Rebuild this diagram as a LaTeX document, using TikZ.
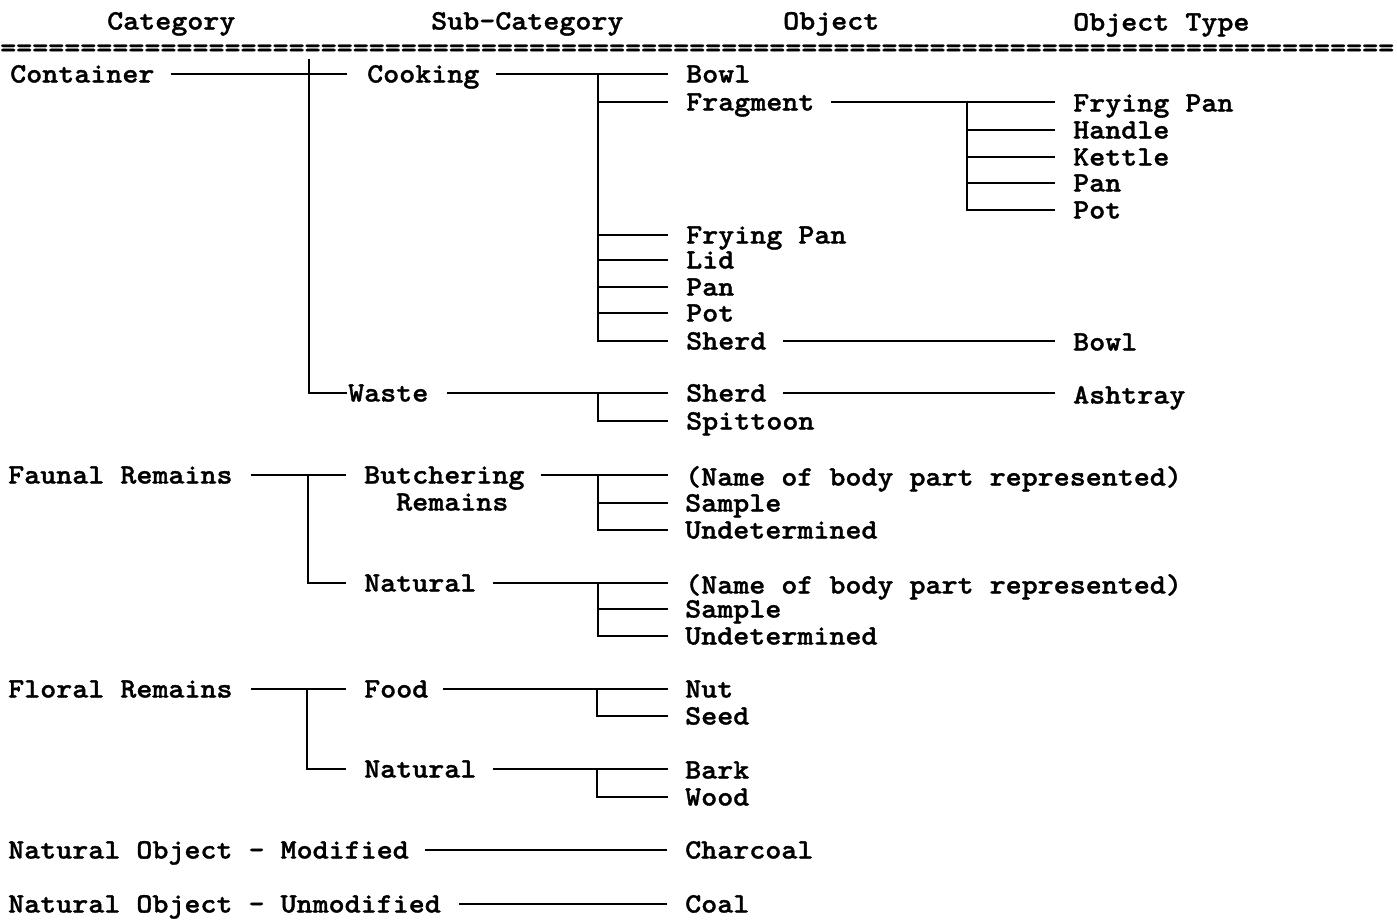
\documentclass[tikz,border=0pt]{standalone}
\usepackage{fontspec}
\newfontfamily\tf{lmmonolt10-bold.otf}[FakeStretch=1.09,FakeBold=1.2]
\begin{document}
\begin{tikzpicture}[x=1pt,y=-1pt,
  txt/.style={anchor=west,inner sep=0pt,text height=18pt,text depth=1pt,
    font=\tf\fontsize{28}{30}\selectfont},
  ln/.style={line width=2pt}]
\useasboundingbox[fill=white] (0,0) rectangle (1397,921);
% headers
\node[txt] (hcat) at (107,21) {Category};
\node[txt] (hsub) at (431,21) {Sub-Category};
\node[txt] (hobj) at (783,21) {Object};
\node[txt] (htyp) at (1073,22) {Object Type};
\node[txt] (eq) at (0,48) {=======================================================================================};
% categories
\node[txt] (c1) at (10,74) {Container};
\node[txt] (c2) at (8,475) {Faunal Remains};
\node[txt] (c3) at (8,689) {Floral Remains};
\node[txt] (c4) at (8,850) {Natural Object - Modified};
\node[txt] (c5) at (8,904) {Natural Object - Unmodified};
% sub-categories
\node[txt] (s1) at (367,74) {Cooking};
\node[txt] (s2) at (348,393) {Waste};
\node[txt] (s3) at (364,475) {Butchering};
\node[txt] (s3b) at (396,502) {Remains};
\node[txt] (s4) at (364,583) {Natural};
\node[txt] (s5) at (364,689) {Food};
\node[txt] (s6) at (364,769) {Natural};
% objects
\node[txt] (o1) at (686,74) {Bowl};
\node[txt] (o2) at (686,102) {Fragment};
\node[txt] (o3) at (686,235) {Frying Pan};
\node[txt] (o4) at (686,260) {Lid};
\node[txt] (o5) at (686,287) {Pan};
\node[txt] (o6) at (686,313) {Pot};
\node[txt] (o7) at (686,341) {Sherd};
\node[txt] (o8) at (686,393) {Sherd};
\node[txt] (o9) at (686,421) {Spittoon};
\node[txt] (o10) at (685,477) {(Name of body part represented)};
\node[txt] (o11) at (685,503) {Sample};
\node[txt] (o12) at (685,530) {Undetermined};
\node[txt] (o13) at (685,585) {(Name of body part represented)};
\node[txt] (o14) at (685,609) {Sample};
\node[txt] (o15) at (685,636) {Undetermined};
\node[txt] (o16) at (685,689) {Nut};
\node[txt] (o17) at (685,716) {Seed};
\node[txt] (o18) at (685,770) {Bark};
\node[txt] (o19) at (685,797) {Wood};
\node[txt] (o20) at (685,850) {Charcoal};
\node[txt] (o21) at (685,904) {Coal};
% object types
\node[txt] (t1) at (1073,103) {Frying Pan};
\node[txt] (t2) at (1073,130) {Handle};
\node[txt] (t3) at (1073,157) {Kettle};
\node[txt] (t4) at (1073,183) {Pan};
\node[txt] (t5) at (1073,210) {Pot};
\node[txt] (t6) at (1073,342) {Bowl};
\node[txt] (t7) at (1073,395) {Ashtray};
% junction coordinates
\coordinate (j1) at (309,74);
\coordinate (j2) at (308,475);
\coordinate (j3) at (307,689);
\coordinate (k1) at (598,74);
\coordinate (k2) at (598,393);
\coordinate (k3) at (598,475);
\coordinate (k4) at (598,583);
\coordinate (k5) at (597,689);
\coordinate (k6) at (597,769);
\coordinate (m1) at (967,102);
% category -> sub-category
\draw[ln] ([xshift=16pt]c1.east) -- ([xshift=-20pt]s1.west);
\draw[ln] ([yshift=15pt]j1) -- (j1 |- s2) -- ([xshift=-1pt]s2.west);
\draw[ln] ([xshift=18pt]c2.east) -- ([xshift=-18pt]s3.west);
\draw[ln] (j2) -- (j2 |- s4) -- ([xshift=-18pt]s4.west);
\draw[ln] ([xshift=18pt]c3.east) -- ([xshift=-18pt]s5.west);
\draw[ln] (j3) -- (j3 |- s6) -- ([xshift=-18pt]s6.west);
\draw[ln] ([xshift=16pt]c4.east) -- ([xshift=-18pt]o20.west);
\draw[ln] ([xshift=18pt]c5.east) -- ([xshift=-18pt]o21.west);
% sub-category -> object
\draw[ln] ([xshift=16pt]s1.east) -- ([xshift=-18pt]o1.west);
\draw[ln] (k1) -- (k1 |- o7) -- ([xshift=-18pt]o7.west);
\foreach \o in {o2,o3,o4,o5,o6} \draw[ln] (k1 |- \o) -- ([xshift=-18pt]\o.west);
\draw[ln] ([xshift=18pt]s2.east) -- ([xshift=-18pt]o8.west);
\draw[ln] (k2) -- (k2 |- o9) -- ([xshift=-18pt]o9.west);
\draw[ln] ([xshift=16pt]s3.east) -- ([xshift=-17pt]o10.west |- s3);
\draw[ln] (k3) -- (k3 |- o12) -- ([xshift=-17pt]o12.west);
\draw[ln] (k3 |- o11) -- ([xshift=-17pt]o11.west);
\draw[ln] ([xshift=16pt]s4.east) -- ([xshift=-17pt]o13.west |- s4);
\draw[ln] (k4) -- (k4 |- o15) -- ([xshift=-17pt]o15.west);
\draw[ln] (k4 |- o14) -- ([xshift=-17pt]o14.west);
\draw[ln] ([xshift=15pt]s5.east) -- ([xshift=-17pt]o16.west);
\draw[ln] (k5) -- (k5 |- o17) -- ([xshift=-17pt]o17.west);
\draw[ln] ([xshift=16pt]s6.east) -- ([xshift=-17pt]o18.west |- s6);
\draw[ln] (k6) -- (k6 |- o19) -- ([xshift=-17pt]o19.west);
% object -> object type
\draw[ln] ([xshift=16pt]o2.east) -- ([xshift=-18pt]t1.west |- o2);
\draw[ln] (m1) -- (m1 |- t5) -- ([xshift=-18pt]t5.west);
\foreach \t in {t2,t3,t4} \draw[ln] (m1 |- \t) -- ([xshift=-18pt]\t.west);
\draw[ln] ([xshift=16pt]o7.east) -- ([xshift=-18pt]t6.west |- o7);
\draw[ln] ([xshift=16pt]o8.east) -- ([xshift=-18pt]t7.west |- o8);
\end{tikzpicture}
\end{document}
